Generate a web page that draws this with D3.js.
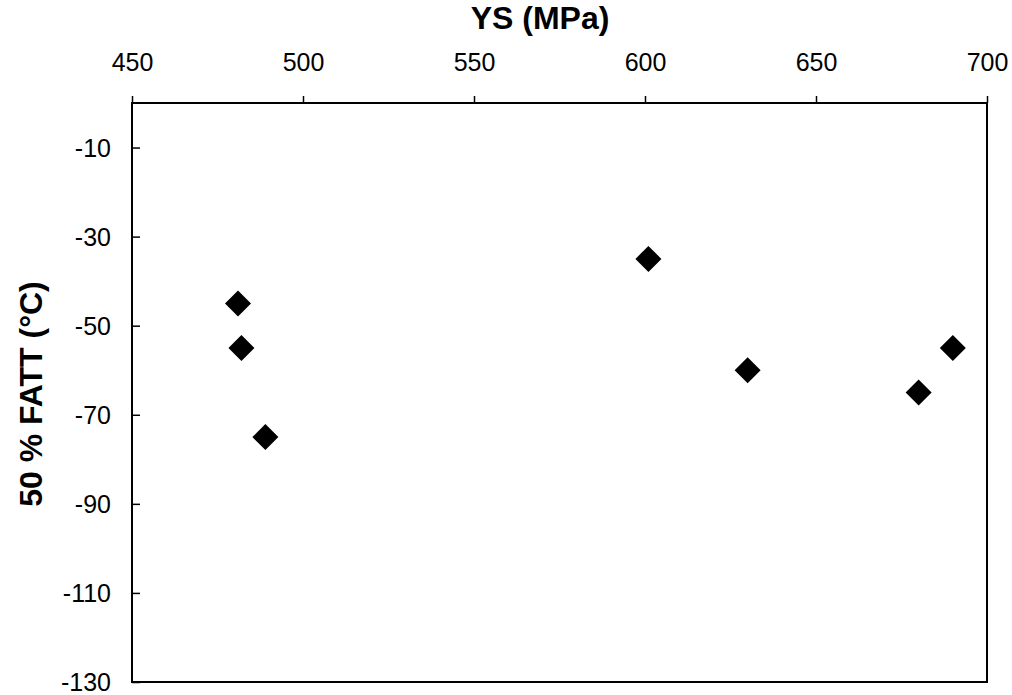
<!DOCTYPE html>
<html>
<head>
<meta charset="utf-8">
<script src="https://cdn.jsdelivr.net/npm/d3@7"></script>
<style>
  body { margin: 0; background: #fff; }
  text { font-family: "Liberation Sans", Arial, sans-serif; fill: #000; }
  .tick text { font-size: 25px; }
  .axisTitle { font-size: 32px; font-weight: bold; }
</style>
</head>
<body>
<div id="chart"></div>
<script>
////////////////// Data ////////////////////
var ysValues = [481, 482, 489, 601, 630, 680, 690];
var fattValues = [-45, -55, -75, -35, -60, -65, -55];
var xTicks = [450, 500, 550, 600, 650, 700];
var yTicks = [-10, -30, -50, -70, -90, -110, -130];

////////////////// Chart Parameters ////////////////////
var svgWidth = 1012;
var svgHeight = 695;
var margin = { top: 103, right: 25, bottom: 13, left: 132 };
var width = svgWidth - margin.left - margin.right;
var height = svgHeight - margin.top - margin.bottom;

var svg = d3.select("#chart").append("svg")
  .attr("width", svgWidth)
  .attr("height", svgHeight);

var chartGroup = svg.append("g")
  .attr("transform", `translate(${margin.left}, ${margin.top})`);

////////// Scales //////////
var xScale = d3.scaleLinear().domain([450, 700]).range([0, width]);
var yScale = d3.scaleLinear().domain([-130, 0]).range([height, 0]);

////////// Axes (plain hyphen for negatives) //////////
var xAxis = d3.axisTop(xScale).tickValues(xTicks).tickSize(7).tickPadding(25)
  .tickFormat(d => String(d));
var yAxis = d3.axisLeft(yScale).tickValues(yTicks).tickSize(-8).tickPadding(21)
  .tickFormat(d => String(d));

var gx = chartGroup.append("g").call(xAxis);
var gy = chartGroup.append("g").call(yAxis);
[gx, gy].forEach(function (g) {
  g.select(".domain").remove();
  g.selectAll(".tick line").attr("stroke", "#000").attr("stroke-width", 1.5);
  g.selectAll(".tick text").attr("fill", "#000");
});
gy.selectAll(".tick text").attr("dy", "0.35em");

////////// Plot box //////////
chartGroup.append("rect")
  .attr("x", 0)
  .attr("y", 0)
  .attr("width", width)
  .attr("height", height)
  .attr("fill", "none")
  .attr("stroke", "#000")
  .attr("stroke-width", 2);

////////// Axis titles //////////
svg.append("text")
  .attr("class", "axisTitle")
  .attr("x", 540)
  .attr("y", 29)
  .attr("text-anchor", "middle")
  .text("YS (MPa)");

svg.append("text")
  .attr("class", "axisTitle")
  .attr("transform", "translate(42, 394) rotate(-90)")
  .attr("text-anchor", "middle")
  .text("50 % FATT (°C)");

////////// Points //////////
var points = ysValues.map(function (d, i) { return { ys: d, fatt: fattValues[i] }; });

chartGroup.selectAll("path.pt")
  .data(points)
  .enter()
  .append("path")
  .attr("class", "pt")
  .attr("d", d3.symbol().type(d3.symbolSquare).size(338))
  .attr("transform", d => `translate(${xScale(d.ys)}, ${yScale(d.fatt)}) rotate(45)`)
  .attr("fill", "#000");
</script>
</body>
</html>
